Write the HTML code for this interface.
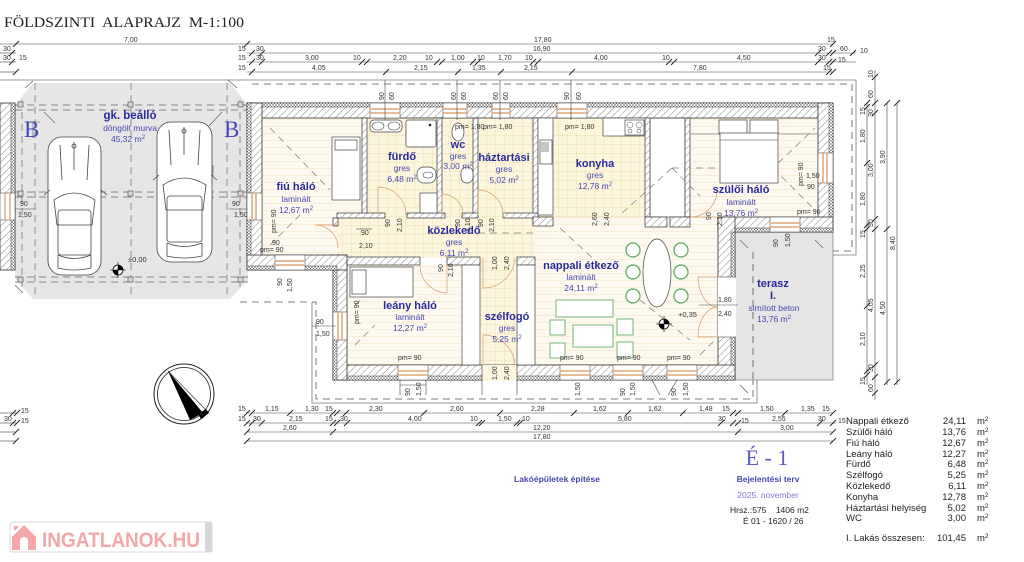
<!DOCTYPE html>
<html><head><meta charset="utf-8"><style>
html,body{margin:0;padding:0;background:#fff;}
svg{display:block;}
text{font-family:"Liberation Sans",sans-serif;}
.d{font-size:7px;fill:#333;}
.rn{font-size:11px;font-weight:bold;fill:#2a2a9c;text-anchor:middle;}
.rm{font-size:8.5px;fill:#4646b4;text-anchor:middle;}
.w{fill:url(#h);stroke:#333;stroke-width:0.8;}
.iw{fill:url(#h);stroke:#333;stroke-width:0.7;}
.ins{fill:url(#ins);stroke:#333;stroke-width:0.5;}
.win{fill:#fff;stroke:#333;stroke-width:0.5;}
.dl{stroke:#444;stroke-width:0.6;fill:none;}
.tk{stroke:#222;stroke-width:0.9;}
.dash{stroke:#555;stroke-width:0.8;stroke-dasharray:7,5;fill:none;}
.door{stroke:#d49a6a;stroke-width:0.7;fill:none;}
.fur{fill:#fff;stroke:#444;stroke-width:0.7;}
.gr{fill:#fff;stroke:#55a855;stroke-width:1.2;}
.tb{font-size:9.5px;fill:#222;}
</style></head><body>
<svg width="1024" height="562" viewBox="0 0 1024 562" xmlns="http://www.w3.org/2000/svg">
<defs>
<pattern id="h" width="5" height="5" patternUnits="userSpaceOnUse" patternTransform="rotate(45)"><rect width="5" height="5" fill="#fff"/><line x1="0" y1="0" x2="0" y2="5" stroke="#555" stroke-width="0.7"/></pattern>
<pattern id="ins" width="3" height="3" patternUnits="userSpaceOnUse"><rect width="3" height="3" fill="#fff"/><path d="M0,0L3,3M3,0L0,3" stroke="#666" stroke-width="0.5"/></pattern>
<pattern id="tile" width="9" height="9" patternUnits="userSpaceOnUse"><rect width="9" height="9" fill="#fdf6df"/><path d="M0,0H9M0,0V9" stroke="#ecd7a3" stroke-width="0.8"/></pattern>
<pattern id="lam" width="10" height="7" patternUnits="userSpaceOnUse"><rect width="10" height="7" fill="#fdf9ee"/><path d="M0,0H10" stroke="#eddcb6" stroke-width="0.8"/></pattern>
</defs>

<!-- Title -->
<text x="4" y="27" font-size="15" fill="#222" textLength="240" lengthAdjust="spacingAndGlyphs" xml:space="preserve" style="font-family:'Liberation Serif',serif;white-space:pre">FÖLDSZINTI  ALAPRAJZ  M-1:100</text>

<!-- Top dimension rows -->
<g>
<line class="dl" x1="0" y1="44" x2="833" y2="44"/>
<path class="tk" d="M13,47L19,41M244,47L250,41M830,47L836,41"/>
<text class="d" x="124" y="42">7,00</text><text class="d" x="534" y="42">17,80</text>
<text class="d" x="827" y="42">15</text>
<line class="dl" x1="0" y1="53" x2="16" y2="53"/><line class="dl" x1="0" y1="62" x2="16" y2="62"/><line class="dl" x1="0" y1="72" x2="16" y2="72"/>
<text class="d" x="3" y="51">30</text><text class="d" x="3" y="60">30</text><text class="d" x="19" y="60">15</text>
<path class="tk" d="M9,56L15,50M9,65L15,59M13,75L19,69"/>
<line class="dl" x1="247" y1="53" x2="856" y2="53"/>
<path class="tk" d="M249,56L255,50M259,56L265,50M815,56L821,50M826,56L832,50M830,56L836,50M850,56L856,50"/>
<text class="d" x="238" y="51">15</text><text class="d" x="256" y="51">30</text><text class="d" x="533" y="51">16,90</text>
<text class="d" x="818" y="51">30</text><text class="d" x="840" y="51">60</text><text class="d" x="860" y="53">10</text>
<line class="dl" x1="247" y1="62" x2="856" y2="62"/>
<path class="tk" d="M249,65L255,59M259,65L265,59M359,65L365,59M364,65L370,59M434,65L440,59M439,65L445,59M470,65L476,59M475,65L481,59M530,65L536,59M535,65L541,59M666,65L672,59M671,65L677,59M815,65L821,59M826,65L832,59M830,65L836,59"/>
<text class="d" x="238" y="60">15</text><text class="d" x="256" y="60">30</text>
<text class="d" x="305" y="60">3,00</text><text class="d" x="353" y="60">10</text><text class="d" x="393" y="60">2,20</text>
<text class="d" x="425" y="60">10</text><text class="d" x="451" y="60">1,00</text><text class="d" x="477" y="60">10</text>
<text class="d" x="498" y="60">1,70</text><text class="d" x="525" y="60">10</text><text class="d" x="594" y="60">4,00</text>
<text class="d" x="662" y="60">10</text><text class="d" x="737" y="60">4,50</text><text class="d" x="818" y="60">30</text><text class="d" x="838" y="62">15</text>
<line class="dl" x1="247" y1="72" x2="833" y2="72"/>
<path class="tk" d="M249,75L255,69M383,75L389,69M455,75L461,69M498,75L504,69M569,75L575,69M826,75L832,69M830,75L836,69"/>
<text class="d" x="238" y="70">15</text><text class="d" x="312" y="70">4,05</text><text class="d" x="414" y="70">2,15</text>
<text class="d" x="472" y="70">1,35</text><text class="d" x="524" y="70">2,15</text><text class="d" x="693" y="70">7,80</text><text class="d" x="823" y="70">15</text>
</g>

<!-- Roof outline -->
<path d="M0,80H856V255H833" stroke="#777" stroke-width="0.8" fill="none"/>
<path class="dash" d="M252,84H852V251H833"/>
<path d="M312,302V403H757V380" stroke="#777" stroke-width="0.8" fill="none"/>
<path class="dash" d="M240,302H316V399H753V252H833"/>

<!-- Garage -->
<polygon points="33,83 230,83 248,105 248,280 230,299 33,299 15,278 15,105" fill="#e6e6e6"/>
<g class="dash" style="stroke:#666;stroke-width:0.7">
<path d="M22,100V290M35,83V299M131,83V299M227,83V299M240,100V290"/>
<path d="M15,105H248M15,110H248M15,192H248M15,197H248M15,277H248M15,282H248"/>
</g>
<g fill="#d8d8d8" stroke="#444" stroke-width="0.6">
<rect x="18" y="102" width="5" height="5"/><rect x="128" y="102" width="5" height="5"/><rect x="238" y="102" width="5" height="5"/>
<rect x="18" y="191" width="5" height="5"/><rect x="128" y="191" width="5" height="5"/><rect x="238" y="191" width="5" height="5"/>
<rect x="18" y="277" width="5" height="5"/><rect x="128" y="277" width="5" height="5"/><rect x="238" y="277" width="5" height="5"/>
</g>
<path d="M44,112L55,123M33,138V122H40M209,126L222,112M213,165V176M25,88L33,81M237,88L228,80M15,285L23,293" stroke="#555" stroke-width="0.6" fill="none"/>
<text x="24" y="137" font-size="23" fill="#4848b8" style="font-family:'Liberation Serif',serif">B</text>
<text x="224" y="137" font-size="23" fill="#4848b8" style="font-family:'Liberation Serif',serif">B</text>
<!-- cars -->
<g fill="#fff" stroke="#444" stroke-width="0.8">
<rect x="48" y="137" width="53" height="138" rx="14"/>
<path d="M54,200Q74,186 95,200L92,225H57Z" fill="none"/>
<rect x="58" y="210" width="33" height="45" rx="3" fill="none"/>
<path d="M58,255Q74,262 91,255V268Q74,272 58,268Z" fill="none"/>
<path d="M60,145L62,180M89,145L87,180M74,142V170" fill="none"/>
<circle cx="74" cy="146" r="2" fill="none"/>
<rect x="157" y="122" width="55" height="140" rx="14"/>
<path d="M163,185Q184,171 206,185L203,210H166Z" fill="none"/>
<rect x="167" y="196" width="35" height="46" rx="3" fill="none"/>
<path d="M167,243Q184,250 202,243V256Q184,260 167,256Z" fill="none"/>
<path d="M169,130L171,165M200,130L198,165M184,127V155" fill="none"/>
<circle cx="184" cy="131" r="2" fill="none"/>
</g>
<path d="M44,195L50,190M101,190L107,195M153,180L159,175M211,175L217,180" stroke="#444" stroke-width="0.8"/>
<!-- garage level marker -->
<circle cx="118" cy="270" r="5" fill="#fff" stroke="#000" stroke-width="0.8"/>
<path d="M118,270V265A5,5 0 0 1 123,270ZM118,270V275A5,5 0 0 1 113,270Z" fill="#000"/>
<path d="M110,270H126M118,262V278" stroke="#000" stroke-width="0.6"/>
<text class="d" x="128" y="262" style="font-size:7.5px">±0,00</text>
<!-- garage labels -->
<text class="rn" x="130" y="119" style="font-size:11.5px">gk. beálló</text>
<text class="rm" x="130" y="131">döngölt murva</text>
<text class="rm" x="128" y="142">45,32 m<tspan font-size="6" dy="-3">2</tspan></text>
<text class="d" x="20" y="206">90</text><text class="d" x="18" y="217">1,50</text>
<text class="d" x="232" y="206">90</text><text class="d" x="234" y="217">1,50</text>
<line class="dl" x1="13" y1="209" x2="35" y2="209"/><line class="dl" x1="229" y1="209" x2="250" y2="209"/>

<!-- garage left wall (neighbor) -->
<rect class="w" x="0" y="103" width="15" height="167"/>
<rect class="ins" x="11" y="103" width="4" height="167"/>
<rect class="win" x="0" y="193" width="15" height="27"/>
<path d="M5,193V220M10,193V220" stroke="#e0a070" stroke-width="1.3"/>

<!-- Floors -->
<rect x="262" y="118" width="100" height="97" fill="url(#lam)"/>
<rect x="262" y="215" width="75" height="40" fill="url(#lam)"/>
<rect x="337" y="215" width="198" height="43" fill="url(#tile)"/>
<rect x="480" y="258" width="37" height="107" fill="url(#tile)"/>
<rect x="367" y="118" width="70" height="97" fill="url(#tile)"/>
<rect x="442" y="118" width="31" height="97" fill="url(#tile)"/>
<rect x="478" y="118" width="55" height="97" fill="url(#tile)"/>
<rect x="538" y="118" width="107" height="99" fill="url(#tile)"/>
<rect x="690" y="118" width="128" height="99" fill="url(#lam)"/>
<rect x="535" y="217" width="183" height="148" fill="url(#lam)"/>
<rect x="347" y="265" width="115" height="100" fill="url(#lam)"/>
<rect x="650" y="118" width="35" height="99" fill="#fff" stroke="#555" stroke-width="0.6"/>
<!-- Terrace -->
<rect x="735" y="232" width="98" height="148" fill="#e5e5e5" stroke="#666" stroke-width="0.6"/>
<path class="dash" d="M753,252V380"/>
<path d="M740,240L748,248M815,240L823,248M740,385L748,393" stroke="#555" stroke-width="0.6"/>

<!-- roof hip dashed lines inside -->
<g class="dash" style="stroke:#777;stroke-width:0.7">
<path d="M270,128L330,190M270,245L300,215M355,305L400,265M355,345L375,325"/>
<path d="M672,168H773L815,128M773,168L815,210M672,168L620,215M672,168L700,196"/>
<path d="M560,228L600,265M640,300L690,340M700,355L715,340"/>
<path d="M430,233H533"/>
</g>

<!-- Outer walls -->
<rect class="w" x="247" y="103" width="586" height="15"/>
<rect class="ins" x="247" y="103" width="586" height="4"/>
<rect class="w" x="247" y="103" width="15" height="167"/>
<rect class="ins" x="247" y="103" width="4" height="167"/>
<rect class="w" x="818" y="103" width="15" height="129"/>
<rect class="ins" x="829" y="103" width="4" height="129"/>
<rect class="w" x="718" y="217" width="115" height="15"/>
<rect class="ins" x="735" y="228" width="98" height="4"/>
<rect class="w" x="718" y="217" width="17" height="163"/>
<rect class="ins" x="731" y="232" width="4" height="148"/>
<rect class="w" x="333" y="365" width="402" height="15"/>
<rect class="ins" x="333" y="376" width="402" height="4"/>
<rect class="w" x="333" y="255" width="14" height="125"/>
<rect class="ins" x="333" y="270" width="4" height="110"/>
<rect class="w" x="247" y="255" width="100" height="15"/>
<rect class="ins" x="247" y="266" width="90" height="4"/>

<!-- windows -->
<g>
<rect class="win" x="370" y="103" width="30" height="15"/><rect class="win" x="443" y="103" width="24" height="15"/>
<rect class="win" x="492" y="103" width="18" height="15"/><rect class="win" x="557" y="103" width="30" height="15"/>
<path d="M370,109H400M370,113H400M443,109H467M443,113H467M492,109H510M492,113H510M557,109H587M557,113H587" stroke="#e3a574" stroke-width="1.5"/>
<rect class="win" x="247" y="193" width="15" height="27"/><path d="M252,193V220M256,193V220" stroke="#e3a574" stroke-width="1.5"/>
<rect class="win" x="818" y="153" width="15" height="30"/><path d="M823,153V183M827,153V183" stroke="#e3a574" stroke-width="1.5"/>
<rect class="win" x="770" y="217" width="30" height="15"/><path d="M770,223H800M770,227H800" stroke="#e3a574" stroke-width="1.5"/>
<rect class="win" x="275" y="255" width="30" height="15"/><path d="M275,261H305M275,265H305" stroke="#e3a574" stroke-width="1.5"/>
<rect class="win" x="333" y="312" width="14" height="28"/><path d="M338,312V340M342,312V340" stroke="#e3a574" stroke-width="1.5"/>
<rect class="win" x="398" y="365" width="30" height="15"/><rect class="win" x="560" y="365" width="30" height="15"/>
<rect class="win" x="613" y="365" width="30" height="15"/><rect class="win" x="667" y="365" width="30" height="15"/>
<path d="M398,371H428M398,375H428M560,371H590M560,375H590M613,371H643M613,375H643M667,371H697M667,375H697" stroke="#e3a574" stroke-width="1.5"/>
<rect x="482" y="365" width="35" height="16" fill="#fdf6df"/>
<rect x="718" y="277" width="18" height="60" fill="#fff"/>
<path d="M482,365V381M517,365V381M718,277H736M718,337H736" stroke="#333" stroke-width="0.6"/>
</g>
<!-- sills below windows -->
<g fill="#fff" stroke="#444" stroke-width="0.6">
<path d="M400,380V395M426,380V395M400,385H426"/>
<path d="M482,380V395M517,380V395"/>
<path d="M652,380L660,395M677,380L668,395"/>
</g>

<!-- interior walls -->
<rect class="iw" x="362" y="118" width="5" height="97"/>
<rect class="iw" x="437" y="118" width="5" height="97"/>
<rect class="iw" x="473" y="118" width="5" height="97"/>
<rect class="iw" x="533" y="118" width="5" height="107"/>
<rect class="iw" x="645" y="118" width="5" height="99"/>
<rect class="iw" x="685" y="118" width="5" height="99"/>
<rect class="iw" x="337" y="213" width="48" height="5"/>
<rect class="iw" x="407" y="213" width="38" height="5"/>
<rect class="iw" x="462" y="213" width="16" height="5"/>
<rect class="iw" x="503" y="213" width="35" height="5"/>
<rect class="iw" x="533" y="217" width="20" height="9"/>
<rect class="iw" x="645" y="217" width="22" height="10"/>
<rect class="iw" x="670" y="217" width="20" height="10"/>
<rect class="iw" x="347" y="257" width="73" height="8"/>
<rect class="iw" x="447" y="257" width="33" height="8"/>
<rect class="iw" x="517" y="257" width="18" height="8"/>
<rect x="462" y="265" width="18" height="100" fill="#fff" stroke="#444" stroke-width="0.7"/>
<rect x="517" y="265" width="18" height="100" fill="#fff" stroke="#444" stroke-width="0.7"/>
<rect class="iw" x="333" y="218" width="5" height="8"/>

<!-- furniture -->
<rect class="fur" x="370" y="120" width="32" height="12" rx="4"/>
<ellipse cx="378" cy="126" rx="6" ry="4" fill="none" stroke="#444" stroke-width="0.6"/><ellipse cx="394" cy="126" rx="6" ry="4" fill="none" stroke="#444" stroke-width="0.6"/>
<rect class="fur" x="406" y="120" width="30" height="27" rx="2"/><circle cx="430" cy="125" r="1.3" fill="#222"/>
<rect class="fur" x="417" y="167" width="19" height="16" rx="7"/><ellipse cx="428" cy="175" rx="5" ry="3" fill="none" stroke="#444" stroke-width="0.6"/>
<rect class="fur" x="420" y="193" width="17" height="20"/>
<ellipse class="fur" cx="458" cy="132" rx="6" ry="9"/>
<rect class="fur" x="461" y="167" width="12" height="16" rx="6"/>
<rect class="fur" x="332" y="137" width="28" height="63"/><rect class="fur" x="335" y="140" width="22" height="10"/>
<rect class="fur" x="538" y="118" width="15" height="97"/>
<rect class="fur" x="540" y="140" width="12" height="24"/><path d="M542,142V152M544,142V152M546,142V152M548,142V152" stroke="#444" stroke-width="0.6"/>
<rect class="fur" x="603" y="118" width="42" height="18"/>
<rect class="fur" x="625" y="120" width="19" height="15"/>
<circle cx="630" cy="125" r="3" fill="none" stroke="#444" stroke-width="0.5"/><circle cx="639" cy="125" r="3" fill="none" stroke="#444" stroke-width="0.5"/>
<circle cx="630" cy="131" r="2" fill="none" stroke="#444" stroke-width="0.5"/><circle cx="639" cy="131" r="2" fill="none" stroke="#444" stroke-width="0.5"/>
<path d="M690,134H818" stroke="#555" stroke-width="0.6"/>
<rect class="fur" x="719" y="120" width="28" height="14"/><rect class="fur" x="750" y="120" width="28" height="14"/>
<rect class="fur" x="720" y="133" width="58" height="50"/><path d="M720,140H778" stroke="#444" stroke-width="0.6"/>
<rect class="fur" x="350" y="267" width="63" height="30"/><rect class="fur" x="352" y="270" width="14" height="24"/>
<!-- dining -->
<ellipse class="fur" cx="657" cy="273" rx="14" ry="34"/>
<circle class="gr" cx="633" cy="250" r="7"/><circle class="gr" cx="633" cy="272" r="7"/><circle class="gr" cx="633" cy="296" r="7"/>
<circle class="gr" cx="681" cy="250" r="7"/><circle class="gr" cx="681" cy="272" r="7"/><circle class="gr" cx="681" cy="296" r="7"/>
<g fill="#fff" stroke="#6aab6a" stroke-width="0.9">
<rect x="556" y="300" width="57" height="17"/><rect x="573" y="325" width="40" height="22"/>
<rect x="550" y="320" width="15" height="15"/><rect x="550" y="343" width="15" height="15"/>
<rect x="617" y="319" width="16" height="16"/><rect x="617" y="342" width="16" height="16"/>
</g>
<!-- level marker -->
<circle cx="664" cy="324" r="5" fill="#fff" stroke="#000" stroke-width="0.8"/>
<path d="M664,324V319A5,5 0 0 1 669,324ZM664,324V329A5,5 0 0 1 659,324Z" fill="#000"/>
<path d="M656,324H672M664,316V332" stroke="#000" stroke-width="0.6"/>
<text class="d" x="678" y="317" style="font-size:7.5px">+0,35</text>

<!-- doors -->
<g class="door">
<path d="M378,215V187A28,28 0 0 1 406,215"/>
<path d="M442,215V194A21,21 0 0 1 463,215"/>
<path d="M478,215V190A25,25 0 0 1 503,215"/>
<path d="M338,225H315A23,23 0 0 1 338,248" />
<path d="M717,217H690A27,27 0 0 0 717,190"/>
<path d="M447,265V293A28,28 0 0 1 420,266"/>
<path d="M483,258V288A32,32 0 0 0 515,258"/>
<path d="M483,365V335A32,32 0 0 1 515,365"/>
<path d="M718,277H698A20,30 0 0 0 718,307M718,337H698A20,30 0 0 1 718,307"/>
</g>
<line class="dl" x1="356" y1="229" x2="372" y2="229"/>

<!-- small labels in plan -->
<g class="d">
<text transform="translate(384,100) rotate(-90)">90</text><text transform="translate(394,100) rotate(-90)">60</text>
<text transform="translate(456,100) rotate(-90)">60</text><text transform="translate(466,100) rotate(-90)">60</text>
<text transform="translate(498,100) rotate(-90)">60</text><text transform="translate(508,100) rotate(-90)">60</text>
<text transform="translate(569,100) rotate(-90)">90</text><text transform="translate(581,100) rotate(-90)">60</text>
<text x="455" y="129">pm= 1,80</text><text x="483" y="129">pm= 1,80</text><text x="565" y="129">pm= 1,80</text>
<text transform="translate(276,233) rotate(-90)">pm= 90</text><text x="272" y="245">90</text>
<text x="260" y="252">pm= 90</text>
<text x="282" y="286" transform="rotate(-90,282,286)">90</text><text x="292" y="292" transform="rotate(-90,292,292)">1,50</text>
<text x="361" y="235">90</text><text x="359" y="248">2,10</text>
<text transform="translate(390,227) rotate(-90)">90</text><text transform="translate(402,232) rotate(-90)">2,10</text>
<text transform="translate(460,227) rotate(-90)">90</text><text transform="translate(470,232) rotate(-90)">2,10</text>
<text transform="translate(483,227) rotate(-90)">90</text><text transform="translate(494,232) rotate(-90)">2,10</text>
<text transform="translate(597,226) rotate(-90)">2,60</text><text transform="translate(609,226) rotate(-90)">2,40</text>
<text transform="translate(711,220) rotate(-90)">90</text><text transform="translate(722,226) rotate(-90)">2,10</text>
<text transform="translate(803,186) rotate(-90)">pm= 90</text><text x="807" y="189">90</text><text x="806" y="178" style="font-size:7px">1,50</text>
<text x="797" y="214">pm= 90</text>
<text transform="translate(778,247) rotate(-90)">90</text><text transform="translate(790,247) rotate(-90)">1,50</text>
<text transform="translate(443,272) rotate(-90)">90</text><text transform="translate(453,277) rotate(-90)">2,10</text>
<text transform="translate(497,270) rotate(-90)">1,00</text><text transform="translate(509,270) rotate(-90)">2,40</text>
<text transform="translate(497,380) rotate(-90)">1,00</text><text transform="translate(509,380) rotate(-90)">2,40</text>
<text x="316" y="324">90</text><text x="316" y="336">1,50</text><line class="dl" x1="312" y1="326" x2="336" y2="326"/>
<text transform="translate(359,324) rotate(-90)">pm= 90</text>
<text x="398" y="360">pm= 90</text><text x="560" y="360">pm= 90</text><text x="617" y="360">pm= 90</text><text x="667" y="360">pm= 90</text>
<text transform="translate(410,396) rotate(-90)">90</text><text transform="translate(421,396) rotate(-90)">1,50</text>
<text transform="translate(580,396) rotate(-90)">1,50</text><text transform="translate(625,396) rotate(-90)">90</text><text transform="translate(635,396) rotate(-90)">1,50</text>
<text transform="translate(676,396) rotate(-90)">90</text><text transform="translate(688,396) rotate(-90)">1,50</text>
<text x="718" y="302">1,80</text><text x="718" y="316">2,40</text><line class="dl" x1="699" y1="305" x2="738" y2="305"/>
</g>
<line class="dl" x1="385" y1="80" x2="385" y2="120"/><line class="dl" x1="457" y1="80" x2="457" y2="120"/>
<line class="dl" x1="500" y1="80" x2="500" y2="120"/><line class="dl" x1="571" y1="80" x2="571" y2="120"/>

<!-- Room labels -->
<text class="rn" x="296" y="190">fiú háló</text><text class="rm" x="296" y="202">laminált</text><text class="rm" x="296" y="213">12,67 m<tspan font-size="6" dy="-3">2</tspan></text>
<text class="rn" x="402" y="160">fürdő</text><text class="rm" x="402" y="171">gres</text><text class="rm" x="402" y="182">6,48 m<tspan font-size="6" dy="-3">2</tspan></text>
<text class="rn" x="458" y="148">wc</text><text class="rm" x="458" y="159">gres</text><text class="rm" x="458" y="169">3,00 m<tspan font-size="6" dy="-3">2</tspan></text>
<text class="rn" x="504" y="161">háztartási</text><text class="rm" x="504" y="172">gres</text><text class="rm" x="504" y="183">5,02 m<tspan font-size="6" dy="-3">2</tspan></text>
<text class="rn" x="595" y="167">konyha</text><text class="rm" x="595" y="178">gres</text><text class="rm" x="595" y="189">12,78 m<tspan font-size="6" dy="-3">2</tspan></text>
<text class="rn" x="741" y="193">szülői háló</text><text class="rm" x="741" y="205">laminált</text><text class="rm" x="741" y="216">13,76 m<tspan font-size="6" dy="-3">2</tspan></text>
<text class="rn" x="454" y="234">közlekedő</text><text class="rm" x="454" y="245">gres</text><text class="rm" x="454" y="256">6,11 m<tspan font-size="6" dy="-3">2</tspan></text>
<text class="rn" x="581" y="269">nappali étkező</text><text class="rm" x="581" y="280">laminált</text><text class="rm" x="581" y="291">24,11 m<tspan font-size="6" dy="-3">2</tspan></text>
<text class="rn" x="410" y="309">leány háló</text><text class="rm" x="410" y="320">laminált</text><text class="rm" x="410" y="331">12,27 m<tspan font-size="6" dy="-3">2</tspan></text>
<text class="rn" x="507" y="320">szélfogó</text><text class="rm" x="507" y="331">gres</text><text class="rm" x="507" y="342">5,25 m<tspan font-size="6" dy="-3">2</tspan></text>
<text class="rn" x="773" y="287">terasz</text><text class="rn" x="773" y="299">I.</text><text class="rm" x="774" y="311">simított beton</text><text class="rm" x="774" y="322">13,76 m<tspan font-size="6" dy="-3">2</tspan></text>

<!-- Right vertical dims -->
<g>
<line class="dl" x1="867" y1="103" x2="867" y2="385"/>
<line class="dl" x1="875" y1="70" x2="875" y2="400"/>
<line class="dl" x1="887" y1="103" x2="887" y2="385"/>
<line class="dl" x1="897" y1="103" x2="897" y2="385"/>
<path class="tk" d="M864,106L870,100M864,110L870,104M864,166L870,160M864,228L870,222M864,232L870,226M864,309L870,303M864,374L870,368M864,378L870,372M872,80L878,74M872,106L878,100M872,116L878,110M872,222L878,216M872,232L878,226M872,368L878,362M872,380L878,374M872,396L878,390M884,106L890,100M884,232L890,226M884,385L890,379M894,106L900,100M894,385L900,379"/>
<g class="d">
<text transform="translate(865,115) rotate(-90)">15</text>
<text transform="translate(865,143) rotate(-90)">1,80</text>
<text transform="translate(865,206) rotate(-90)">1,80</text>
<text transform="translate(865,238) rotate(-90)">15</text>
<text transform="translate(865,278) rotate(-90)">2,25</text>
<text transform="translate(865,346) rotate(-90)">2,10</text>
<text transform="translate(865,385) rotate(-90)">15</text>
<text transform="translate(873,78) rotate(-90)">10</text>
<text transform="translate(873,98) rotate(-90)">60</text>
<text transform="translate(873,117) rotate(-90)">30</text>
<text transform="translate(873,177) rotate(-90)">3,00</text>
<text transform="translate(873,227) rotate(-90)">30</text>
<text transform="translate(873,312) rotate(-90)">4,05</text>
<text transform="translate(873,372) rotate(-90)">30</text>
<text transform="translate(873,392) rotate(-90)">60</text>
<text transform="translate(885,164) rotate(-90)">3,90</text>
<text transform="translate(885,315) rotate(-90)">4,50</text>
<text transform="translate(895,250) rotate(-90)">8,40</text>
</g>
</g>

<!-- Bottom dimension rows -->
<g>
<line class="dl" x1="246" y1="413" x2="833" y2="413"/>
<line class="dl" x1="246" y1="423" x2="836" y2="423"/>
<line class="dl" x1="246" y1="432" x2="833" y2="432"/>
<line class="dl" x1="246" y1="441" x2="833" y2="441"/>
<line class="dl" x1="0" y1="413" x2="16" y2="413"/><line class="dl" x1="0" y1="423" x2="16" y2="423"/>
<line class="dl" x1="0" y1="432" x2="16" y2="432"/><line class="dl" x1="0" y1="441" x2="16" y2="441"/>
<path class="tk" d="M10,416L16,410M14,416L20,410M10,426L16,420M14,426L20,420M13,435L19,429M13,444L19,438"/>
<text class="d" x="21" y="413">15</text><text class="d" x="4" y="421">30</text><text class="d" x="21" y="423">15</text>
<path class="tk" d="M244,416L250,410M249,416L255,410M287,416L293,410M330,416L336,410M334,416L340,410M343,416L349,410M421,416L427,410M497,416L503,410M571,416L577,410M625,416L631,410M680,416L686,410M730,416L736,410M735,416L741,410M782,416L788,410M830,416L836,410"/>
<path class="tk" d="M244,426L250,420M249,426L255,420M259,426L265,420M330,426L336,420M334,426L340,420M344,426L350,420M476,426L482,420M479,426L485,420M514,426L520,420M517,426L523,420M718,426L724,420M730,426L736,420M735,426L741,420M817,426L823,420M830,426L836,420"/>
<path class="tk" d="M244,435L250,429M330,435L336,429M735,435L741,429M830,435L836,429M244,444L250,438M830,444L836,438"/>
<g class="d">
<text x="238" y="411">15</text><text x="265" y="411">1,15</text><text x="305" y="411">1,30</text><text x="325" y="411">15</text>
<text x="369" y="411">2,30</text><text x="450" y="411">2,60</text><text x="531" y="411">2,28</text><text x="593" y="411">1,62</text>
<text x="648" y="411">1,62</text><text x="699" y="411">1,48</text><text x="722" y="411">15</text><text x="760" y="411">1,50</text>
<text x="801" y="411">1,35</text><text x="822" y="411">15</text>
<text x="238" y="421">15</text><text x="253" y="421">30</text><text x="289" y="421">2,15</text><text x="325" y="421">15</text><text x="340" y="421">30</text>
<text x="408" y="421">4,00</text><text x="470" y="421">10</text><text x="498" y="421">1,50</text><text x="522" y="421">10</text>
<text x="618" y="421">5,80</text><text x="718" y="421">30</text><text x="741" y="423">15</text><text x="772" y="421">2,55</text>
<text x="818" y="421">30</text><text x="838" y="423">15</text>
<text x="283" y="430">2,60</text><text x="533" y="430">12,20</text><text x="780" y="430">3,00</text>
<text x="533" y="439">17,80</text>
</g>
</g>

<!-- compass -->
<circle cx="184" cy="394" r="30" fill="#fff" stroke="#222" stroke-width="1"/>
<circle cx="184" cy="394" r="26.5" fill="none" stroke="#222" stroke-width="0.8"/>
<path d="M168,371L190,420L203,413Z" fill="#000"/>
<path d="M168,371L205,409" stroke="#222" stroke-width="0.6"/>
<path d="M198,414L206,409L209,413L201,419Z" fill="#000"/>

<!-- title block -->
<text x="767" y="465" font-size="22" fill="#5a5ac0" text-anchor="middle" style="font-family:'Liberation Serif',serif">É - 1</text>
<text x="557" y="482" font-size="8.5" font-weight="bold" fill="#4848b0" text-anchor="middle">Lakóépületek építése</text>
<text x="768" y="482" font-size="8.5" font-weight="bold" fill="#4848b0" text-anchor="middle">Bejelentési terv</text>
<text x="768" y="498" font-size="8.5" fill="#7a7ad0" text-anchor="middle">2025. november</text>
<text x="730" y="513" font-size="8.5" fill="#222" xml:space="preserve" style="white-space:pre">Hrsz.:575    1406 m2</text>
<text x="743" y="524" font-size="8.5" fill="#222">É 01 - 1620 / 26</text>

<!-- area table -->
<g class="tb">
<text x="846" y="424">Nappali étkező</text><text x="966" y="424" text-anchor="end">24,11</text><text x="977" y="424">m<tspan font-size="6.5" dy="-3">2</tspan></text>
<text x="846" y="435">Szülői háló</text><text x="966" y="435" text-anchor="end">13,76</text><text x="977" y="435">m<tspan font-size="6.5" dy="-3">2</tspan></text>
<text x="846" y="446">Fiú háló</text><text x="966" y="446" text-anchor="end">12,67</text><text x="977" y="446">m<tspan font-size="6.5" dy="-3">2</tspan></text>
<text x="846" y="457">Leány háló</text><text x="966" y="457" text-anchor="end">12,27</text><text x="977" y="457">m<tspan font-size="6.5" dy="-3">2</tspan></text>
<text x="846" y="467">Fürdő</text><text x="966" y="467" text-anchor="end">6,48</text><text x="977" y="467">m<tspan font-size="6.5" dy="-3">2</tspan></text>
<text x="846" y="478">Szélfogó</text><text x="966" y="478" text-anchor="end">5,25</text><text x="977" y="478">m<tspan font-size="6.5" dy="-3">2</tspan></text>
<text x="846" y="489">Közlekedő</text><text x="966" y="489" text-anchor="end">6,11</text><text x="977" y="489">m<tspan font-size="6.5" dy="-3">2</tspan></text>
<text x="846" y="500">Konyha</text><text x="966" y="500" text-anchor="end">12,78</text><text x="977" y="500">m<tspan font-size="6.5" dy="-3">2</tspan></text>
<text x="846" y="511">Háztartási helyiség</text><text x="966" y="511" text-anchor="end">5,02</text><text x="977" y="511">m<tspan font-size="6.5" dy="-3">2</tspan></text>
<text x="846" y="521">WC</text><text x="966" y="521" text-anchor="end">3,00</text><text x="977" y="521">m<tspan font-size="6.5" dy="-3">2</tspan></text>
<text x="846" y="541">I. Lakás összesen:</text><text x="966" y="541" text-anchor="end">101,45</text><text x="977" y="541">m<tspan font-size="6.5" dy="-3">2</tspan></text>
</g>

<!-- watermark logo -->
<rect x="10" y="522" width="202" height="30" rx="2" fill="#fff" stroke="#d8d8d8" stroke-width="1"/>
<rect x="205" y="522" width="7" height="30" fill="#d4d6d8"/>
<path d="M12,537L24,525L36,537V550H12Z" fill="#f2a8a8"/>
<path d="M20,550V541A4,4 0 0 1 28,541V550Z" fill="#fff"/>
<path d="M14,531V526H18V528" fill="#f2a8a8"/>
<text x="42" y="547" font-size="21" font-weight="bold" fill="#f2a8a8" textLength="158" lengthAdjust="spacingAndGlyphs">INGATLANOK.HU</text>
</svg>
</body></html>
